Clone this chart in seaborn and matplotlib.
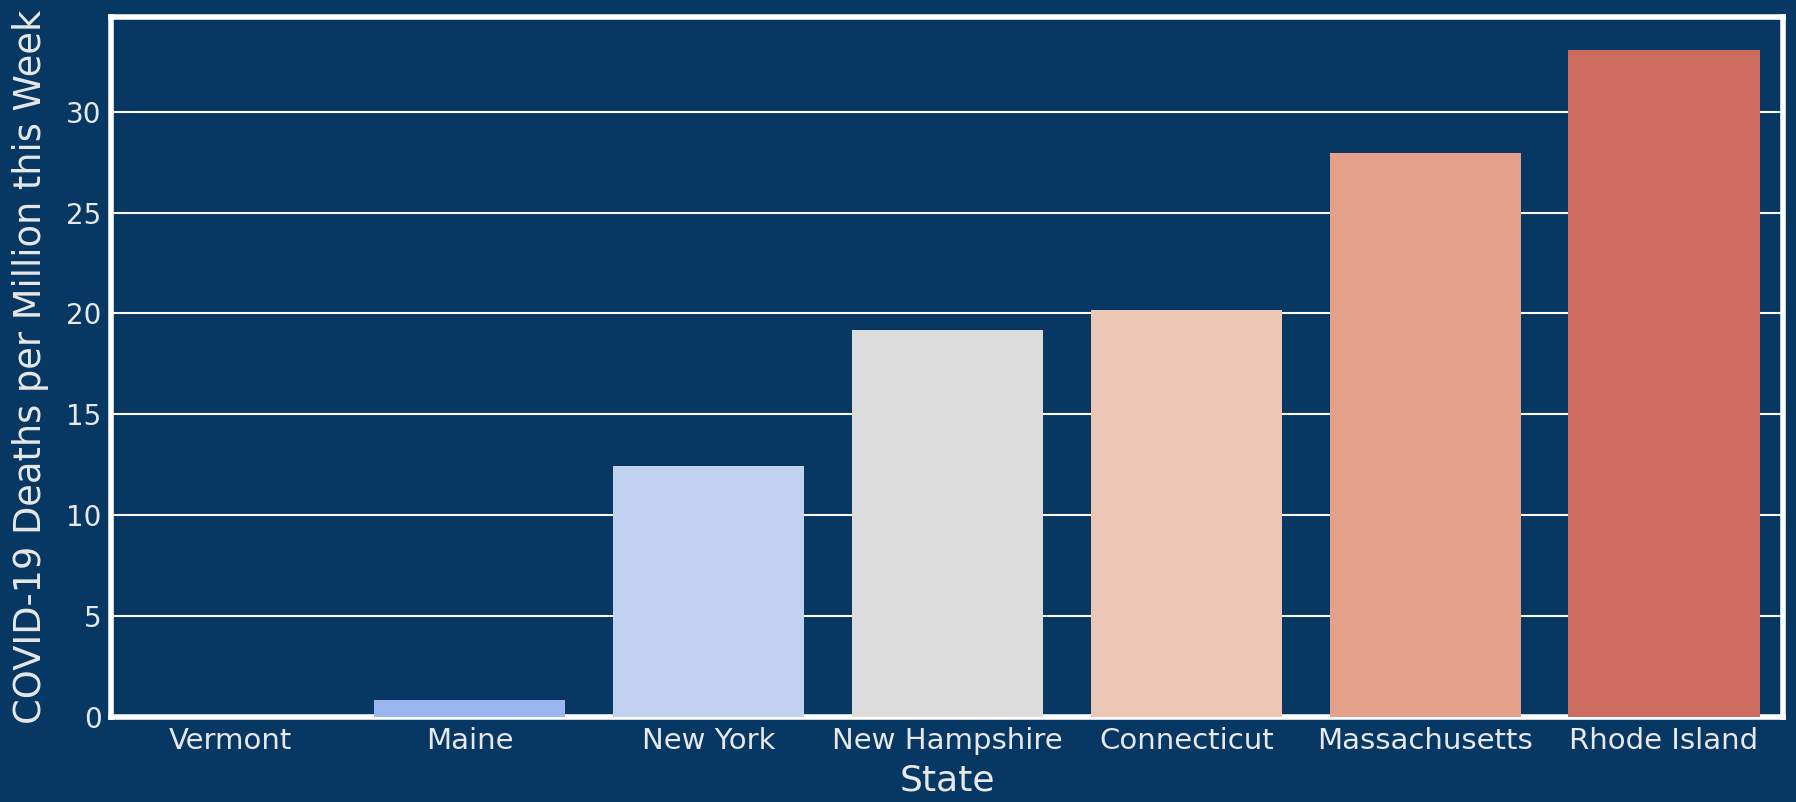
import matplotlib
matplotlib.use("Agg")
import matplotlib.pyplot as plt
import seaborn as sns
import pandas as pd

# ---------- DATA ----------
states = ["Vermont", "Maine", "New York", "New Hampshire",
          "Connecticut", "Massachusetts", "Rhode Island"]
deaths_per_million = [0.0, 0.85, 12.45, 19.2, 20.15, 27.95, 33.05]

df = pd.DataFrame({"State": states,
                   "COVID-19 Deaths per Million this Week": deaths_per_million})

bg = "#073763"
fg = "#e8e8e8"

sns.set_style("white")
plt.rcParams["font.family"] = ["DejaVu Sans"]

fig = plt.figure(figsize=(17.96, 8.02), dpi=100, facecolor=bg)
ax = fig.add_axes([0.062, 0.106, 0.931, 0.873])
ax.set_facecolor(bg)

sns.barplot(data=df, x="State", y="COVID-19 Deaths per Million this Week",
            hue="State", palette="coolwarm", legend=False, ax=ax,
            linewidth=0, zorder=3)

# ---------- STYLE ----------
ax.yaxis.grid(True, color="white", linewidth=1.5, zorder=0)
ax.set_axisbelow(True)
for sp in ax.spines.values():
    sp.set_color("white")
    sp.set_linewidth(4)
ax.tick_params(axis="both", length=0, colors=fg, labelsize=20)
ax.tick_params(axis="x", labelsize=21, pad=7)
ax.tick_params(axis="y", pad=7)
ax.set_xlabel("State", color=fg, fontsize=26, labelpad=6)
ax.set_ylabel("COVID-19 Deaths per Million this Week", color=fg,
              fontsize=26.5, labelpad=12)

fig.savefig("out.png", dpi=100, facecolor=bg)
